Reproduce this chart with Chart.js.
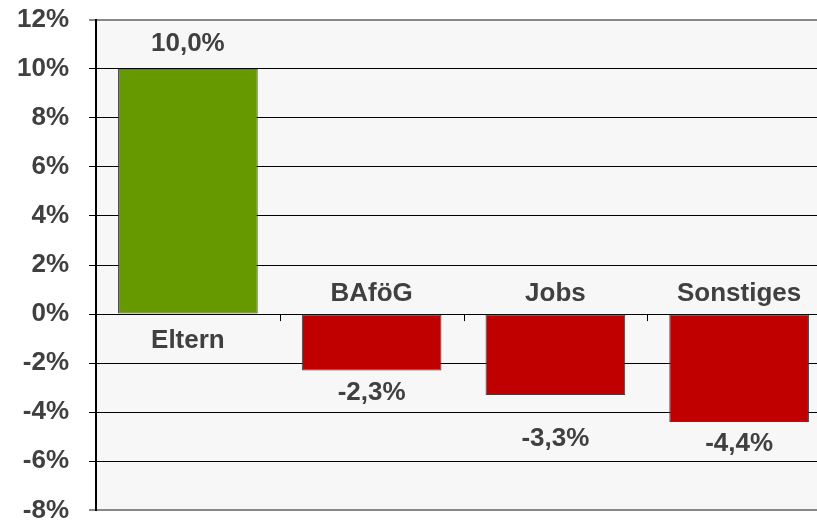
<!DOCTYPE html>
<html>
<head>
<meta charset="utf-8">
<script src="https://cdn.jsdelivr.net/npm/chart.js@4.4.0/dist/chart.umd.min.js"></script>
<style>
  html, body { margin: 0; padding: 0; background: #fff; overflow: hidden; }
  #wrap { width: 831px; height: 562px; margin-top: -16px; }
</style>
</head>
<body>
<div id="wrap"><canvas id="chart"></canvas></div>
<script>
const categories = ['Eltern', 'BAföG', 'Jobs', 'Sonstiges'];
const values = [10.0, -2.3, -3.3, -4.4];
const valueLabels = ['10,0%', '-2,3%', '-3,3%', '-4,4%'];
const yTicks = [-8, -6, -4, -2, 0, 2, 4, 6, 8, 10, 12];

const TEXT = '#404040';
const FAMILY = '"Liberation Sans", Arial, sans-serif';
const FONT = 'bold 26px ' + FAMILY;

// Beschriftungen, Hintergrund und Kategorie-Striche
const decor = {
  id: 'decor',
  beforeDraw(chart) {
    const { ctx, chartArea: a } = chart;
    ctx.save();
    ctx.fillStyle = '#f7f7f7';
    ctx.fillRect(a.left, a.top, a.right - a.left, a.bottom - a.top);
    ctx.restore();
  },
  afterDatasetsDraw(chart) {
    const { ctx, scales: { x, y } } = chart;
    const zero = y.getPixelForValue(0);
    ctx.save();
    // kleine Striche zwischen den Kategorien
    ctx.strokeStyle = '#000';
    ctx.lineWidth = 1;
    for (let i = 1; i < categories.length; i++) {
      const px = Math.round((x.getPixelForValue(i - 1) + x.getPixelForValue(i)) / 2) + 0.5;
      ctx.beginPath();
      ctx.moveTo(px, zero);
      ctx.lineTo(px, zero + 7);
      ctx.stroke();
    }
    ctx.font = FONT;
    ctx.fillStyle = TEXT;
    ctx.textAlign = 'center';
    ctx.textBaseline = 'middle';
    const extra = [0, 0, 22, 0];
    chart.getDatasetMeta(0).data.forEach((bar, i) => {
      const v = values[i];
      const cx = bar.x;
      // Kategorie
      ctx.fillText(categories[i], cx, v >= 0 ? zero + 27 : zero - 20);
      // Wert
      const end = y.getPixelForValue(v);
      ctx.fillText(valueLabels[i], cx, v >= 0 ? end - 25 : end + 22 + extra[i]);
    });
    ctx.restore();
  }
};

new Chart(document.getElementById('chart'), {
  type: 'bar',
  data: {
    labels: categories,
    datasets: [{
      data: values,
      backgroundColor: values.map(v => v >= 0 ? '#669900' : '#c00000'),
      borderColor: '#404040',
      borderWidth: 1,
      borderSkipped: false,
      barPercentage: 0.76,
      categoryPercentage: 1
    }]
  },
  options: {
    responsive: true,
    maintainAspectRatio: false,
    animation: false,
    layout: { padding: { top: 1, bottom: 0, left: 0, right: 0 } },
    plugins: { legend: { display: false }, tooltip: { enabled: false } },
    scales: {
      x: { display: false },
      y: {
        min: -8,
        max: 12,
        afterBuildTicks: axis => { axis.ticks = yTicks.map(v => ({ value: v })); },
        afterFit: axis => { axis.width = 96; },
        ticks: {
          callback: v => v + '%',
          color: TEXT,
          font: { family: FAMILY, size: 26, weight: 'bold' },
          padding: 20
        },
        grid: {
          color: c => (c.tick.value === -8 || c.tick.value === 12) ? '#888' : '#000',
          lineWidth: c => (c.tick.value === -8 || c.tick.value === 12) ? 2 : 1,
          tickLength: 7
        },
        border: { color: '#000', width: 2 }
      }
    }
  },
  plugins: [decor]
});
</script>
</body>
</html>
